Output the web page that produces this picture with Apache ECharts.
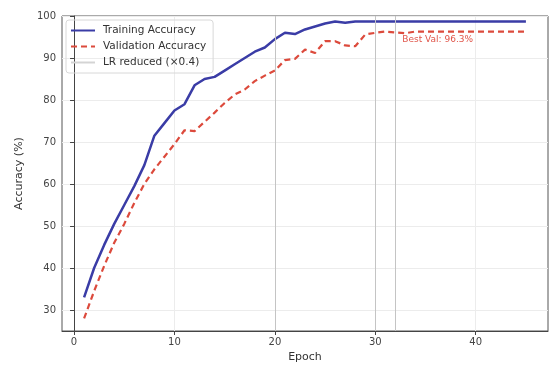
<!DOCTYPE html>
<html>
<head>
<meta charset="utf-8">
<script src="https://cdn.jsdelivr.net/npm/echarts@6/dist/echarts.min.js"></script>
<style>
  html, body { margin: 0; padding: 0; background: #fff; }
  #chart { width: 550px; height: 371px; }
</style>
</head>
<body>
<div id="chart"></div>
<script>
const epochs = Array.from({ length: 45 }, (_, i) => i + 1);

const trainAcc = [
  33.0, 40.0, 45.5, 50.5, 55.0, 59.5, 64.5, 71.5, 74.5, 77.5,
  79.0, 83.5, 85.0, 85.5, 87.0, 88.5, 90.0, 91.5, 92.5, 94.5,
  96.0, 95.7, 96.8, 97.5, 98.2, 98.7, 98.4, 98.7, 98.7, 98.7,
  98.7, 98.7, 98.7, 98.7, 98.7, 98.7, 98.7, 98.7, 98.7, 98.7,
  98.7, 98.7, 98.7, 98.7, 98.7,
];

const valAcc = [
  28.0, 34.5, 40.5, 46.0, 50.5, 55.5, 60.0, 63.5, 66.5, 69.5,
  72.8, 72.6, 74.8, 77.0, 79.3, 81.3, 82.5, 84.5, 85.8, 87.0,
  89.5, 89.8, 92.0, 91.2, 94.0, 94.0, 93.0, 92.8, 95.6, 96.0,
  96.3, 96.1, 95.9, 96.3, 96.3, 96.3, 96.3, 96.3, 96.3, 96.3,
  96.3, 96.3, 96.3, 96.3, 96.3,
];

const lrEpochs = [20, 30, 32];
const xTicks = [0, 10, 20, 30, 40];
const yTicks = [30, 40, 50, 60, 70, 80, 90, 100];

const bestVal = Math.max(...valAcc);
const bestEpoch = epochs[valAcc.indexOf(bestVal)];

const font = 'DejaVu Sans';
const chart = echarts.init(document.getElementById('chart'), null, { renderer: 'canvas' });

chart.setOption({
  animation: false,
  textStyle: { fontFamily: font },
  grid: {
    left: 62, right: 2, top: 16, bottom: 40,
    show: true, borderColor: '#555', borderWidth: 1, backgroundColor: 'transparent',
  },
  legend: {
    left: 66, top: 20,
    orient: 'vertical',
    padding: [5, 7, 5, 4],
    itemWidth: 24, itemHeight: 11, itemGap: 5,
    itemStyle: { opacity: 0 },
    borderColor: '#d8d8d8', borderWidth: 1, borderRadius: 3,
    textStyle: { fontFamily: font, fontSize: 10.5, color: '#333', padding: [0, 0, 0, 3] },
    data: ['Training Accuracy', 'Validation Accuracy', 'LR reduced (×0.4)'],
  },
  xAxis: {
    type: 'value', min: -1.2, max: 47.2,
    name: 'Epoch', nameLocation: 'middle', nameGap: 20,
    nameTextStyle: { fontFamily: font, fontSize: 11, color: '#333' },
    axisLine: { onZero: false, lineStyle: { color: '#444' } },
    axisTick: { show: true, customValues: xTicks, length: 4, lineStyle: { color: '#444' } },
    axisLabel: { customValues: xTicks, margin: 6, fontSize: 10, color: '#444', fontFamily: font },
    splitLine: { show: true, lineStyle: { color: '#ececec', width: 1 } },
  },
  yAxis: {
    type: 'value', min: 25, max: 100,
    name: 'Accuracy (%)', nameLocation: 'middle', nameGap: 37,
    nameTextStyle: { fontFamily: font, fontSize: 11, color: '#333' },
    axisLine: { show: true, lineStyle: { color: '#444' } },
    axisTick: { show: true, customValues: yTicks, length: 4, lineStyle: { color: '#444' } },
    axisLabel: { customValues: yTicks, margin: 6, fontSize: 10, color: '#444', fontFamily: font },
    splitLine: { show: true, lineStyle: { color: '#ececec', width: 1 } },
  },
  series: [
    {
      name: 'LR reduced (×0.4)',
      type: 'line',
      data: [],
      symbol: 'none',
      lineStyle: { color: '#d4d4d4', width: 1 },
      itemStyle: { color: '#d4d4d4' },
      markLine: {
        silent: true,
        symbol: 'none',
        label: { show: false },
        lineStyle: { color: '#c4c4c4', width: 1, type: 'solid' },
        data: lrEpochs.map((e) => ({ xAxis: e })),
      },
    },
    {
      name: 'Training Accuracy',
      type: 'line',
      data: epochs.map((e, i) => [e, trainAcc[i]]),
      symbol: 'none',
      lineStyle: { color: '#3a3ca6', width: 2.5 },
      itemStyle: { color: '#3a3ca6' },
      z: 3,
    },
    {
      name: 'Validation Accuracy',
      type: 'line',
      data: epochs.map((e, i) => [e, valAcc[i]]),
      symbol: 'none',
      lineStyle: { color: '#dc4a3c', width: 2.2, type: [6, 4] },
      itemStyle: { color: '#dc4a3c' },
      z: 3,
      markPoint: {
        silent: true,
        symbol: 'circle',
        symbolSize: 0,
        data: [{ coord: [bestEpoch, bestVal] }],
        label: {
          show: true,
          position: [17, 4],
          align: 'left',
          verticalAlign: 'top',
          formatter: 'Best Val: ' + bestVal.toFixed(1) + '%',
          fontFamily: font,
          fontSize: 9,
          color: '#e0554a',
        },
      },
    },
  ],
});
</script>
</body>
</html>
